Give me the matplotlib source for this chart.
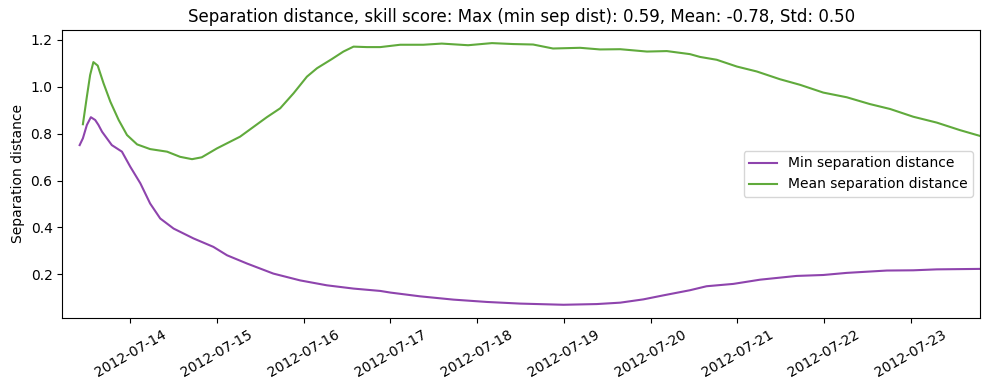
import matplotlib
matplotlib.use("Agg")
import matplotlib.pyplot as plt
import matplotlib.dates as mdates
import pandas as pd

# hours since 2012-07-13 00:00
start = pd.Timestamp("2012-07-13")

min_hours = [10.0, 10.9, 12.0, 13.1, 14.3, 15.2, 16.2, 18.9, 21.7, 24.0, 26.8, 29.5,
             32.3, 36.0, 41.5, 47.0, 50.8, 56.3, 63.6, 71.0, 78.4, 85.8, 93.2, 96.0,
             104.2, 113.4, 122.7, 131.9, 143.9, 153.1, 159.6, 166.0, 171.5, 178.9,
             183.5, 190.9, 198.3, 208.4, 215.8, 222.3, 233.4, 240.7, 247.2, 259.2]
min_sep = [0.751, 0.780, 0.837, 0.870, 0.858, 0.837, 0.808, 0.751, 0.723, 0.659, 0.588, 0.502,
           0.438, 0.395, 0.353, 0.317, 0.281, 0.246, 0.203, 0.174, 0.153, 0.139, 0.129, 0.122,
           0.106, 0.092, 0.082, 0.075, 0.070, 0.073, 0.079, 0.093, 0.110, 0.132,
           0.149, 0.159, 0.177, 0.193, 0.197, 0.206, 0.216, 0.217, 0.221, 0.223]

mean_hours = [10.9, 12.0, 12.9, 13.8, 15.0, 16.6, 18.5, 20.8, 23.1, 25.9, 29.5, 34.2,
              37.8, 41.1, 43.8, 48.0, 54.4, 61.8, 65.5, 69.2, 72.9, 75.7, 79.8, 83.0,
              85.8, 89.5, 93.2, 98.7, 105.1, 110.2, 117.5, 124.1, 130.0, 135.5, 141.0,
              148.5, 154.0, 159.6, 167.0, 172.5, 178.9, 181.7, 186.3, 191.9, 197.4,
              203.8, 209.4, 215.8, 222.3, 228.7, 234.3, 240.7, 247.2, 253.6, 259.2]
mean_sep = [0.840, 0.958, 1.050, 1.105, 1.090, 1.015, 0.936, 0.858, 0.794, 0.754, 0.734, 0.723,
            0.701, 0.691, 0.699, 0.737, 0.787, 0.870, 0.908, 0.972, 1.043, 1.079, 1.118, 1.150,
            1.171, 1.169, 1.169, 1.179, 1.179, 1.184, 1.177, 1.186, 1.182, 1.180, 1.163,
            1.166, 1.159, 1.160, 1.150, 1.152, 1.139, 1.127, 1.115, 1.086, 1.065,
            1.032, 1.008, 0.975, 0.955, 0.926, 0.905, 0.872, 0.847, 0.815, 0.790]

min_t = start + pd.to_timedelta(min_hours, unit="h")
mean_t = start + pd.to_timedelta(mean_hours, unit="h")

fig, ax = plt.subplots(figsize=(9.89, 3.9), dpi=100)
ax.plot(min_t, min_sep, color="#8e44ad", label="Min separation distance")
ax.plot(mean_t, mean_sep, color="#60aa3c", label="Mean separation distance")
ax.set_xlim(start + pd.Timedelta(hours=5.2), start + pd.Timedelta(hours=259.2))
ax.xaxis.set_major_locator(mdates.DayLocator())
ax.xaxis.set_major_formatter(mdates.DateFormatter("%Y-%m-%d"))
ax.tick_params(axis="x", labelrotation=30)
ax.set_ylabel("Separation distance")
ax.set_title("Separation distance, skill score: Max (min sep dist): 0.59, Mean: -0.78, Std: 0.50")
ax.legend(loc="center right")
fig.subplots_adjust(left=0.063, right=0.991, top=0.923, bottom=0.185)
fig.savefig("out.png")
